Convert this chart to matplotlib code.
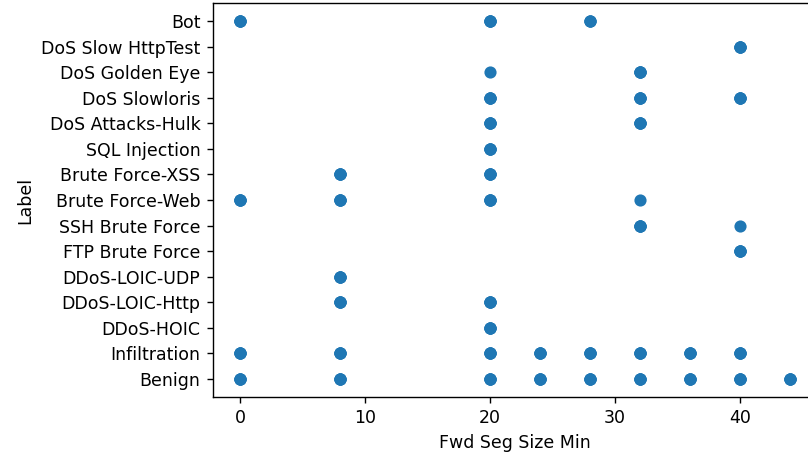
import matplotlib
matplotlib.use("Agg")
import matplotlib.pyplot as plt

# Attack labels, bottom to top on the y axis
labels = [
    "Benign", "Infiltration", "DDoS-HOIC", "DDoS-LOIC-Http", "DDoS-LOIC-UDP",
    "FTP Brute Force", "SSH Brute Force", "Brute Force-Web", "Brute Force-XSS",
    "SQL Injection", "DoS Attacks-Hulk", "DoS Slowloris", "DoS Golden Eye",
    "DoS Slow HttpTest", "Bot",
]

# Observed "Fwd Seg Size Min" values per label
seg_min = [
    [0, 8, 20, 24, 28, 32, 36, 40, 44],
    [0, 8, 20, 24, 28, 32, 36, 40],
    [20],
    [8, 20],
    [8],
    [40],
    [32, 40],
    [0, 8, 20, 32],
    [8, 20],
    [20],
    [20, 32],
    [20, 32, 40],
    [20, 32],
    [40],
    [0, 20, 28],
]

# How many flows fall on each (label, value) point; stacked points render denser
flow_counts = [
    [4, 4, 4, 4, 4, 4, 4, 4, 4],
    [4, 4, 4, 4, 4, 4, 4, 4],
    [4],
    [4, 4],
    [4],
    [4],
    [4, 1],
    [4, 4, 4, 1],
    [4, 4],
    [4],
    [4, 4],
    [4, 4, 4],
    [1, 4],
    [4],
    [4, 4, 3],
]

xs, ys = [], []
for lab, vals, cnts in zip(labels, seg_min, flow_counts):
    for v, c in zip(vals, cnts):
        xs.extend([v] * c)
        ys.extend([lab] * c)

dpi = 125
W, H = 808, 461
fig = plt.figure(figsize=(W / dpi, H / dpi), dpi=dpi)
ax = fig.add_axes([212.5 / W, (H - 396.9) / H, 605 / W, 393.8 / H])

ax.scatter(xs, ys)
ax.set_xlabel("Fwd Seg Size Min")
ax.set_ylabel("Label")

fig.savefig("out.png", dpi=dpi)
